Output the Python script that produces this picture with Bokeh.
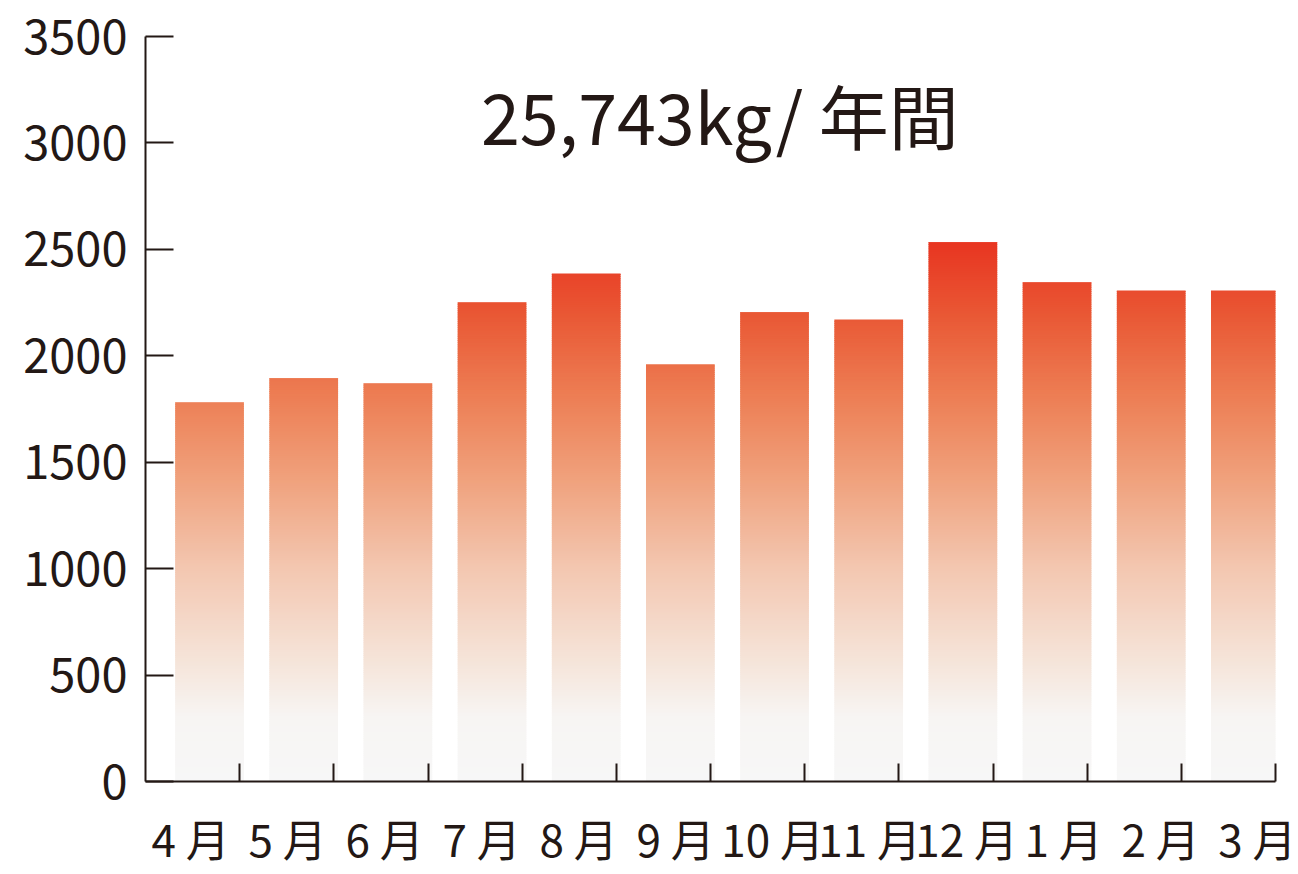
from bokeh.plotting import figure
from bokeh.models import Range1d, FixedTicker, LinearAxis, ColumnDataSource
from bokeh.core.properties import value
from bokeh.embed import file_html
from bokeh.resources import INLINE

months = ["4 月", "5 月", "6 月", "7 月", "8 月", "9 月", "10 月", "11 月", "12 月", "1 月", "2 月", "3 月"]
amounts = [1782, 1894, 1871, 2251, 2387, 1960, 2204, 2171, 2533, 2345, 2307, 2307]
y_ticks = [0, 500, 1000, 1500, 2000, 2500, 3000, 3500]
title_text = "25,743kg/ 年間"

# colour stops of the vertical gradient (by value)
stop_vals = [0, 300, 600, 1000, 1400, 1800, 2200, 2550]
stop_cols = [(247, 247, 247), (247, 245, 243), (245, 226, 214), (243, 199, 177),
             (240, 163, 127), (237, 127, 85), (233, 87, 52), (232, 51, 32)]

INK = "#231815"
FONT = "Noto Sans CJK JP"
BAR_OFF = 0.68
BAR_W = 0.73
LABEL_START = 0.48
LABEL_STEP = 1.03

W, H = 1296, 872


def grad(v):
    if v <= stop_vals[0]:
        c = stop_cols[0]
    elif v >= stop_vals[-1]:
        c = stop_cols[-1]
    else:
        for k in range(len(stop_vals) - 1):
            a, b = stop_vals[k], stop_vals[k + 1]
            if a <= v <= b:
                t = (v - a) / (b - a)
                c = tuple(stop_cols[k][j] + (stop_cols[k + 1][j] - stop_cols[k][j]) * t for j in range(3))
                break
    return "#%02x%02x%02x" % tuple(int(round(x)) for x in c)


left, right, bottom, top, color = [], [], [], [], []
step = 10
overlap = 4
for i, v in enumerate(amounts):
    y0 = 0
    while y0 < v:
        y1 = min(y0 + step, v)
        left.append(i + BAR_OFF - BAR_W / 2)
        right.append(i + BAR_OFF + BAR_W / 2)
        bottom.append(y0)
        top.append(min(y1 + overlap, v))
        color.append(grad((y0 + y1) / 2))
        y0 = y1

src = ColumnDataSource(dict(left=left, right=right, bottom=bottom, top=top, color=color))

p = figure(width=W, height=H, x_range=Range1d(0, len(months)), y_range=Range1d(0, 3500),
           output_backend="svg", toolbar_location=None, x_axis_location=None, y_axis_location=None,
           min_border_left=145, min_border_right=W - 1275, min_border_top=36, min_border_bottom=91)
p.outline_line_color = None
p.xgrid.visible = False
p.ygrid.visible = False
p.background_fill_color = "white"

p.quad(left="left", right="right", bottom="bottom", top="top", fill_color="color",
       line_color=None, source=src)

# y axis
yax = LinearAxis(ticker=FixedTicker(ticks=y_ticks))
yax.axis_line_color = INK
yax.axis_line_width = 2
yax.major_tick_line_color = INK
yax.major_tick_line_width = 2
yax.major_tick_in = 28
yax.major_tick_out = 0
yax.minor_tick_line_color = None
yax.major_label_text_font = FONT
yax.major_label_text_font_size = "47px"
yax.major_label_text_color = INK
yax.major_label_standoff = 18
p.add_layout(yax, "left")

# x axis line with ticks at category boundaries
xax = LinearAxis(ticker=FixedTicker(ticks=list(range(1, len(months) + 1))))
xax.axis_line_color = INK
xax.axis_line_width = 2
xax.major_tick_line_color = INK
xax.major_tick_line_width = 2
xax.major_tick_in = 18
xax.major_tick_out = 0
xax.minor_tick_line_color = None
xax.major_label_standoff = 0
xax.major_label_text_font_size = "1px"
xax.major_label_text_alpha = 0
p.add_layout(xax, "below")

# month labels
label_pos = [LABEL_START + i * LABEL_STEP for i in range(len(months))]
lax = LinearAxis(ticker=FixedTicker(ticks=label_pos),
                 major_label_overrides={pos: m for pos, m in zip(label_pos, months)})
lax.axis_line_color = None
lax.major_tick_line_color = None
lax.minor_tick_line_color = None
lax.major_label_text_font = FONT
lax.major_label_text_font_size = "44px"
lax.major_label_text_color = INK
lax.major_label_standoff = 18
p.add_layout(lax, "below")

# headline
p.text(x=[6.1], y=[3134], text=[title_text], text_font=value(FONT), text_font_size="70px",
       text_color=INK, text_align="center", text_baseline="middle")

open("out.html", "w").write(file_html(p, INLINE))
